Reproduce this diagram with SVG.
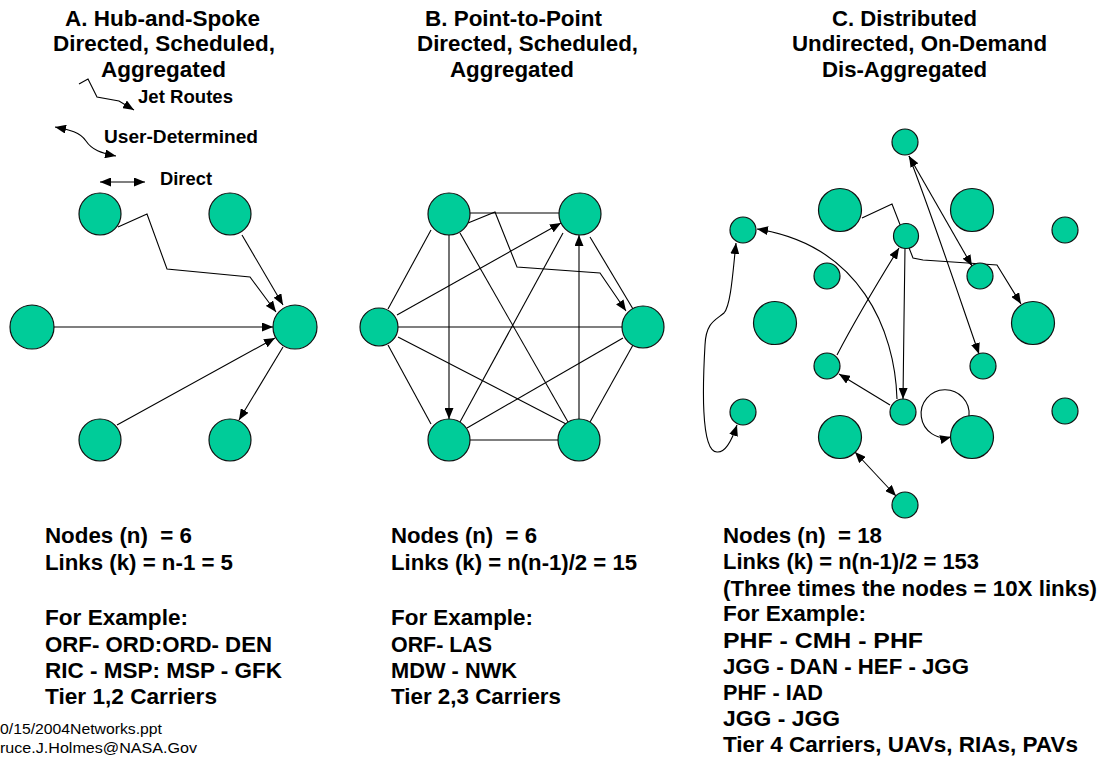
<svg xmlns="http://www.w3.org/2000/svg" width="1104" height="761" viewBox="0 0 1104 761">
<style>
.n{fill:#00CC99;stroke:#111;stroke-width:1.2}
.e{fill:none;stroke:#000;stroke-width:1.1}
.a{marker-end:url(#arr)}
.s{marker-start:url(#arr)}
.t{font-family:"Liberation Sans",Arial,sans-serif;font-weight:bold;font-size:22px;fill:#000}
.l{font-family:"Liberation Sans",Arial,sans-serif;font-weight:bold;font-size:19px;fill:#000}
.f{font-family:"Liberation Sans",Arial,sans-serif;font-size:15px;fill:#000}
</style>
<defs>
<marker id="arr" viewBox="0 0 11 9" markerWidth="11" markerHeight="9" refX="11" refY="4.5" orient="auto-start-reverse" markerUnits="userSpaceOnUse">
<path d="M0 0 L11 4.5 L0 9 z" fill="#000"/>
</marker>
</defs>
<rect width="1104" height="761" fill="#fff"/>

<g id="titles">
<text class="t" x="65" y="26" textLength="195" lengthAdjust="spacingAndGlyphs">A. Hub-and-Spoke</text>
<text class="t" x="53" y="51" textLength="222" lengthAdjust="spacingAndGlyphs">Directed, Scheduled,</text>
<text class="t" x="101" y="77" textLength="125" lengthAdjust="spacingAndGlyphs">Aggregated</text>
<text class="t" x="425" y="26" textLength="177" lengthAdjust="spacingAndGlyphs">B. Point-to-Point</text>
<text class="t" x="417" y="51" textLength="221" lengthAdjust="spacingAndGlyphs">Directed, Scheduled,</text>
<text class="t" x="450" y="77" textLength="124" lengthAdjust="spacingAndGlyphs">Aggregated</text>
<text class="t" x="832" y="26" textLength="145" lengthAdjust="spacingAndGlyphs">C. Distributed</text>
<text class="t" x="792" y="51" textLength="255" lengthAdjust="spacingAndGlyphs">Undirected, On-Demand</text>
<text class="t" x="822" y="77" textLength="165" lengthAdjust="spacingAndGlyphs">Dis-Aggregated</text>
</g>

<g id="legend">
<path class="e a" d="M79 84 L88 79 L97 97 L119 101 L134 110"/>
<text class="l" x="138" y="103" textLength="95" lengthAdjust="spacingAndGlyphs">Jet Routes</text>
<path class="e a s" d="M55 127 C70 130 80 132 86 141 C92 150 101 153 116 156"/>
<text class="l" x="104" y="143" textLength="154" lengthAdjust="spacingAndGlyphs">User-Determined</text>
<path class="e a s" d="M100 182 L145 182"/>
<text class="l" x="160" y="185" textLength="52" lengthAdjust="spacingAndGlyphs">Direct</text>
</g>

<g id="connectors">
<!-- Panel A -->
<path class="e a" d="M118 227 L147 214 L167 269 L250 277 L276 312"/>
<path class="e a" d="M242 235 L283 305"/>
<path class="e a" d="M53 327 L273 327"/>
<path class="e a" d="M117 425 L275 338"/>
<path class="e a" d="M283 347 L239 420"/>
<!-- Panel B -->
<path class="e" d="M470 213 L559 213"/>
<path class="e a" d="M468 223 L495 212 L517 267 L600 273 L626 311"/>
<path class="e a" d="M449 235 L449 419"/>
<path class="e a" d="M579 419 L579 235"/>
<path class="e a" d="M397 315 L561 223"/>
<path class="e" d="M398 327 L622 327"/>
<path class="e" d="M388 309 L431 230"/>
<path class="e" d="M388 345 L431 424"/>
<path class="e" d="M398 337 L568 425"/>
<path class="e" d="M460 233 L568 422"/>
<path class="e" d="M563 233 L460 422"/>
<path class="e" d="M590 237 L633 309"/>
<path class="e" d="M623 338 L467 428"/>
<path class="e" d="M633 345 L590 422"/>
<path class="e" d="M470 440 L558 440"/>
<!-- Panel C -->
<path class="e a" d="M862 218 L892 204 L913 258 L923 260 L997 265 L1021 304"/>
<path class="e a s" d="M909 156 L972 266"/>
<path class="e a" d="M909 156 C930 210 950 270 979 354"/>
<path class="e a" d="M905 248 L904 320 L903 399"/>
<path class="e a" d="M837 355 C850 330 870 295 899 248"/>
<path class="e a" d="M890 405 L839 374"/>
<path class="e a" d="M897 399 C895 330 860 245 757 229"/>
<path class="e a s" d="M736 243 C733 270 731 305 724 313 C716 320 706 322 705 345 C703 380 700 452 717 452 C726 453 733 437 737 425"/>
<path class="e a s" d="M855 452 L896 496"/>
<path class="e a" d="M969 416 A24 24 0 1 0 951 437"/>
</g>

<g id="A-top-left"><circle class="n" cx="100" cy="214" r="21"/></g>
<g id="A-top-right"><circle class="n" cx="230" cy="214" r="21"/></g>
<g id="A-left"><circle class="n" cx="32" cy="327" r="22"/></g>
<g id="A-hub"><circle class="n" cx="295" cy="327" r="22"/></g>
<g id="A-bottom-left"><circle class="n" cx="100" cy="440" r="21"/></g>
<g id="A-bottom-right"><circle class="n" cx="230" cy="440" r="21"/></g>

<g id="B-top-left"><circle class="n" cx="449" cy="214" r="21"/></g>
<g id="B-top-right"><circle class="n" cx="580" cy="214" r="21"/></g>
<g id="B-left"><circle class="n" cx="379" cy="327" r="19"/></g>
<g id="B-right"><circle class="n" cx="643" cy="327" r="21"/></g>
<g id="B-bottom-left"><circle class="n" cx="449" cy="440" r="21"/></g>
<g id="B-bottom-right"><circle class="n" cx="579" cy="440" r="21"/></g>

<g id="C-1"><circle class="n" cx="905" cy="142" r="13"/></g>
<g id="C-2"><circle class="n" cx="840" cy="210" r="21.5"/></g>
<g id="C-3"><circle class="n" cx="972" cy="210" r="21.5"/></g>
<g id="C-4"><circle class="n" cx="743" cy="230" r="13"/></g>
<g id="C-5"><circle class="n" cx="906" cy="236" r="12.5"/></g>
<g id="C-6"><circle class="n" cx="1065" cy="230" r="13"/></g>
<g id="C-7"><circle class="n" cx="827" cy="276" r="13"/></g>
<g id="C-8"><circle class="n" cx="980" cy="276" r="13"/></g>
<g id="C-9"><circle class="n" cx="775" cy="323" r="21.5"/></g>
<g id="C-10"><circle class="n" cx="1033" cy="323" r="21.5"/></g>
<g id="C-11"><circle class="n" cx="827" cy="366" r="13"/></g>
<g id="C-12"><circle class="n" cx="983" cy="366" r="13"/></g>
<g id="C-13"><circle class="n" cx="743" cy="412" r="13"/></g>
<g id="C-14"><circle class="n" cx="903" cy="412" r="13"/></g>
<g id="C-15"><circle class="n" cx="1065" cy="411" r="13"/></g>
<g id="C-16"><circle class="n" cx="840" cy="437" r="21.5"/></g>
<g id="C-17"><circle class="n" cx="972" cy="437" r="21.5"/></g>
<g id="C-18"><circle class="n" cx="905" cy="505" r="13"/></g>

<g id="text-A">
<text class="t" x="45" y="543" textLength="147" lengthAdjust="spacingAndGlyphs">Nodes (n)&#160; = 6</text>
<text class="t" x="45" y="570" textLength="188" lengthAdjust="spacingAndGlyphs">Links (k) = n-1 = 5</text>
<text class="t" x="45" y="625" textLength="143" lengthAdjust="spacingAndGlyphs">For Example:</text>
<text class="t" x="45" y="652" textLength="227" lengthAdjust="spacingAndGlyphs">ORF- ORD:ORD- DEN</text>
<text class="t" x="45" y="678" textLength="237" lengthAdjust="spacingAndGlyphs">RIC - MSP: MSP - GFK</text>
<text class="t" x="45" y="704" textLength="172" lengthAdjust="spacingAndGlyphs">Tier 1,2 Carriers</text>
<text class="f" x="0" y="734" textLength="162" lengthAdjust="spacingAndGlyphs">0/15/2004Networks.ppt</text>
<text class="f" x="0" y="753" textLength="197" lengthAdjust="spacingAndGlyphs">ruce.J.Holmes@NASA.Gov</text>
</g>

<g id="text-B">
<text class="t" x="391" y="543" textLength="146" lengthAdjust="spacingAndGlyphs">Nodes (n)&#160; = 6</text>
<text class="t" x="391" y="570" textLength="246" lengthAdjust="spacingAndGlyphs">Links (k) = n(n-1)/2 = 15</text>
<text class="t" x="391" y="625" textLength="142" lengthAdjust="spacingAndGlyphs">For Example:</text>
<text class="t" x="391" y="652" textLength="101" lengthAdjust="spacingAndGlyphs">ORF- LAS</text>
<text class="t" x="391" y="678" textLength="126" lengthAdjust="spacingAndGlyphs">MDW - NWK</text>
<text class="t" x="391" y="704" textLength="170" lengthAdjust="spacingAndGlyphs">Tier 2,3 Carriers</text>
</g>

<g id="text-C">
<text class="t" x="723" y="543" textLength="159" lengthAdjust="spacingAndGlyphs">Nodes (n)&#160; = 18</text>
<text class="t" x="723" y="569" textLength="256" lengthAdjust="spacingAndGlyphs">Links (k) = n(n-1)/2 = 153</text>
<text class="t" x="723" y="596" textLength="374" lengthAdjust="spacingAndGlyphs">(Three times the nodes = 10X links)</text>
<text class="t" x="723" y="621" textLength="143" lengthAdjust="spacingAndGlyphs">For Example:</text>
<text class="t" x="723" y="648" textLength="200" lengthAdjust="spacingAndGlyphs">PHF - CMH - PHF</text>
<text class="t" x="723" y="674" textLength="246" lengthAdjust="spacingAndGlyphs">JGG - DAN - HEF - JGG</text>
<text class="t" x="723" y="700" textLength="100" lengthAdjust="spacingAndGlyphs">PHF - IAD</text>
<text class="t" x="723" y="726" textLength="117" lengthAdjust="spacingAndGlyphs">JGG - JGG</text>
<text class="t" x="723" y="752" textLength="355" lengthAdjust="spacingAndGlyphs">Tier 4 Carriers, UAVs, RIAs, PAVs</text>
</g>
</svg>
